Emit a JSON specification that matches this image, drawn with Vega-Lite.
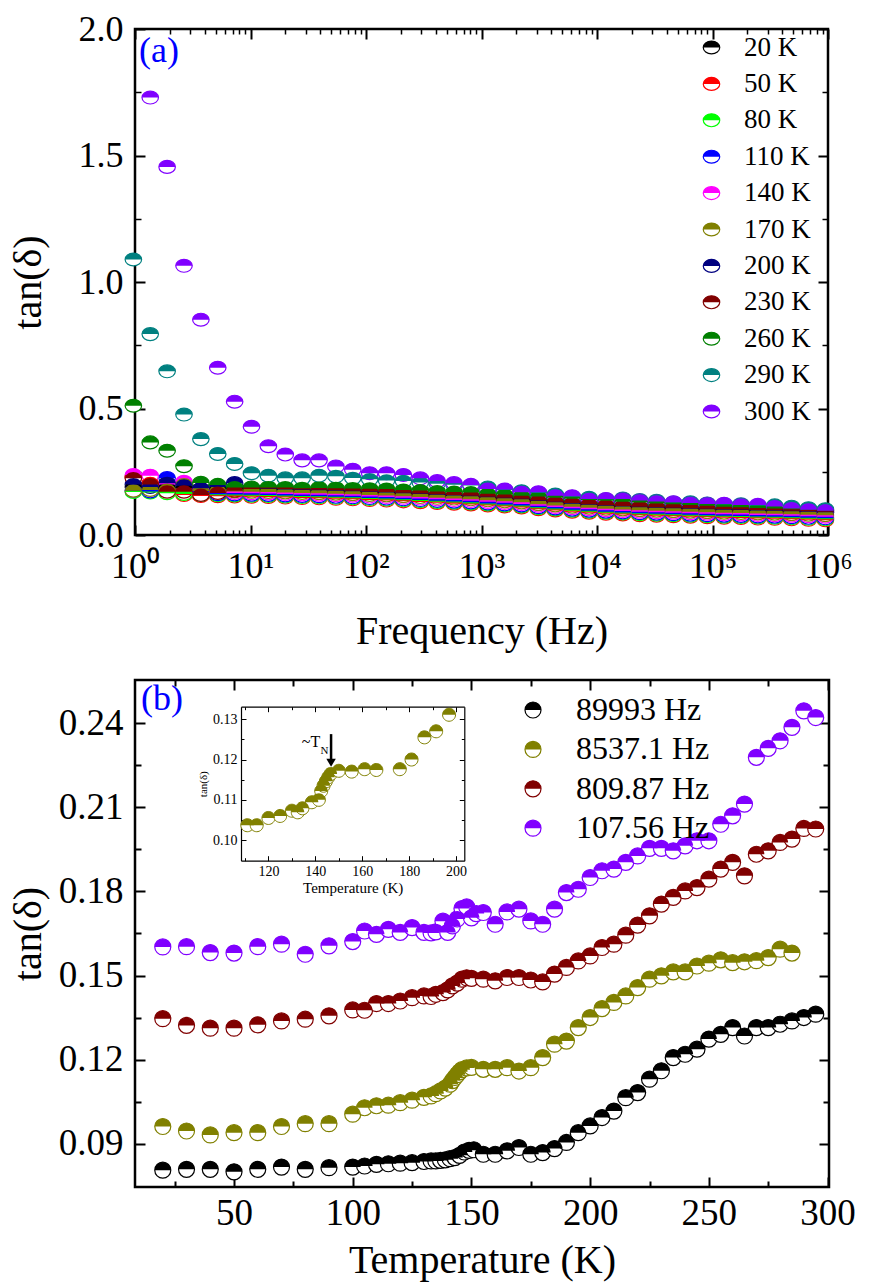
{
"$schema":"https://vega.github.io/schema/vega-lite/v6.json",
"background":"white",
"padding":{"left":6,"top":9,"right":0,"bottom":0},
"config":{"font":"Liberation Serif","view":{"stroke":"black","strokeWidth":2.5},
"axis":{"grid":false,"labelColor":"black","titleColor":"black","tickColor":"black","domainColor":"black","labelFont":"Liberation Serif","titleFont":"Liberation Serif","titleFontWeight":"normal","labelFlush":false,"labelOverlap":false,"labelBound":false},
"legend":{"labelFont":"Liberation Serif","labelColor":"black"},
"text":{"font":"Liberation Serif"}},
"datasets":{
"a":[
{"f":0.968,"s":"20 K","v":0.190},{"f":1.355,"s":"20 K","v":0.182},{"f":1.897,"s":"20 K","v":0.188},{"f":2.656,"s":"20 K","v":0.186},{"f":3.718,"s":"20 K","v":0.184},{"f":5.206,"s":"20 K","v":0.183},{"f":7.288,"s":"20 K","v":0.182},{"f":10.2,"s":"20 K","v":0.181},{"f":14.28,"s":"20 K","v":0.180},{"f":20,"s":"20 K","v":0.178},{"f":28,"s":"20 K","v":0.176},{"f":39.2,"s":"20 K","v":0.175},{"f":54.88,"s":"20 K","v":0.173},{"f":76.83,"s":"20 K","v":0.171},{"f":107.56,"s":"20 K","v":0.168},{"f":150.58,"s":"20 K","v":0.166},{"f":210.82,"s":"20 K","v":0.163},{"f":295.15,"s":"20 K","v":0.160},{"f":413.21,"s":"20 K","v":0.157},{"f":578.49,"s":"20 K","v":0.154},{"f":809.87,"s":"20 K","v":0.151},{"f":1133.8,"s":"20 K","v":0.147},{"f":1587.4,"s":"20 K","v":0.143},{"f":2222.3,"s":"20 K","v":0.139},{"f":3111.2,"s":"20 K","v":0.132},{"f":4355.7,"s":"20 K","v":0.127},{"f":6098,"s":"20 K","v":0.122},{"f":8537.1,"s":"20 K","v":0.118},{"f":11952,"s":"20 K","v":0.114},{"f":16733,"s":"20 K","v":0.111},{"f":23426,"s":"20 K","v":0.108},{"f":32796,"s":"20 K","v":0.106},{"f":45914,"s":"20 K","v":0.104},{"f":64280,"s":"20 K","v":0.102},{"f":89993,"s":"20 K","v":0.100},{"f":125990,"s":"20 K","v":0.098},{"f":176386,"s":"20 K","v":0.097},{"f":246940,"s":"20 K","v":0.095},{"f":345716,"s":"20 K","v":0.094},{"f":484003,"s":"20 K","v":0.092},{"f":677604,"s":"20 K","v":0.090},{"f":948646,"s":"20 K","v":0.088},
{"f":0.968,"s":"50 K","v":0.228},{"f":1.355,"s":"50 K","v":0.205},{"f":1.897,"s":"50 K","v":0.170},{"f":2.656,"s":"50 K","v":0.158},{"f":3.718,"s":"50 K","v":0.154},{"f":5.206,"s":"50 K","v":0.153},{"f":7.288,"s":"50 K","v":0.152},{"f":10.2,"s":"50 K","v":0.151},{"f":14.28,"s":"50 K","v":0.150},{"f":20,"s":"50 K","v":0.148},{"f":28,"s":"50 K","v":0.146},{"f":39.2,"s":"50 K","v":0.145},{"f":54.88,"s":"50 K","v":0.143},{"f":76.83,"s":"50 K","v":0.141},{"f":107.56,"s":"50 K","v":0.138},{"f":150.58,"s":"50 K","v":0.136},{"f":210.82,"s":"50 K","v":0.133},{"f":295.15,"s":"50 K","v":0.130},{"f":413.21,"s":"50 K","v":0.127},{"f":578.49,"s":"50 K","v":0.124},{"f":809.87,"s":"50 K","v":0.121},{"f":1133.8,"s":"50 K","v":0.117},{"f":1587.4,"s":"50 K","v":0.113},{"f":2222.3,"s":"50 K","v":0.109},{"f":3111.2,"s":"50 K","v":0.102},{"f":4355.7,"s":"50 K","v":0.097},{"f":6098,"s":"50 K","v":0.092},{"f":8537.1,"s":"50 K","v":0.088},{"f":11952,"s":"50 K","v":0.084},{"f":16733,"s":"50 K","v":0.081},{"f":23426,"s":"50 K","v":0.078},{"f":32796,"s":"50 K","v":0.076},{"f":45914,"s":"50 K","v":0.074},{"f":64280,"s":"50 K","v":0.072},{"f":89993,"s":"50 K","v":0.070},{"f":125990,"s":"50 K","v":0.068},{"f":176386,"s":"50 K","v":0.067},{"f":246940,"s":"50 K","v":0.065},{"f":345716,"s":"50 K","v":0.064},{"f":484003,"s":"50 K","v":0.062},{"f":677604,"s":"50 K","v":0.060},{"f":948646,"s":"50 K","v":0.058},
{"f":0.968,"s":"80 K","v":0.170},{"f":1.355,"s":"80 K","v":0.168},{"f":1.897,"s":"80 K","v":0.165},{"f":2.656,"s":"80 K","v":0.162},{"f":3.718,"s":"80 K","v":0.158},{"f":5.206,"s":"80 K","v":0.157},{"f":7.288,"s":"80 K","v":0.156},{"f":10.2,"s":"80 K","v":0.155},{"f":14.28,"s":"80 K","v":0.154},{"f":20,"s":"80 K","v":0.152},{"f":28,"s":"80 K","v":0.150},{"f":39.2,"s":"80 K","v":0.149},{"f":54.88,"s":"80 K","v":0.147},{"f":76.83,"s":"80 K","v":0.145},{"f":107.56,"s":"80 K","v":0.142},{"f":150.58,"s":"80 K","v":0.140},{"f":210.82,"s":"80 K","v":0.137},{"f":295.15,"s":"80 K","v":0.134},{"f":413.21,"s":"80 K","v":0.131},{"f":578.49,"s":"80 K","v":0.128},{"f":809.87,"s":"80 K","v":0.125},{"f":1133.8,"s":"80 K","v":0.121},{"f":1587.4,"s":"80 K","v":0.117},{"f":2222.3,"s":"80 K","v":0.113},{"f":3111.2,"s":"80 K","v":0.106},{"f":4355.7,"s":"80 K","v":0.101},{"f":6098,"s":"80 K","v":0.096},{"f":8537.1,"s":"80 K","v":0.092},{"f":11952,"s":"80 K","v":0.088},{"f":16733,"s":"80 K","v":0.085},{"f":23426,"s":"80 K","v":0.082},{"f":32796,"s":"80 K","v":0.080},{"f":45914,"s":"80 K","v":0.078},{"f":64280,"s":"80 K","v":0.076},{"f":89993,"s":"80 K","v":0.074},{"f":125990,"s":"80 K","v":0.072},{"f":176386,"s":"80 K","v":0.071},{"f":246940,"s":"80 K","v":0.069},{"f":345716,"s":"80 K","v":0.068},{"f":484003,"s":"80 K","v":0.066},{"f":677604,"s":"80 K","v":0.064},{"f":948646,"s":"80 K","v":0.062},
{"f":0.968,"s":"110 K","v":0.175},{"f":1.355,"s":"110 K","v":0.172},{"f":1.897,"s":"110 K","v":0.225},{"f":2.656,"s":"110 K","v":0.205},{"f":3.718,"s":"110 K","v":0.170},{"f":5.206,"s":"110 K","v":0.161},{"f":7.288,"s":"110 K","v":0.160},{"f":10.2,"s":"110 K","v":0.159},{"f":14.28,"s":"110 K","v":0.158},{"f":20,"s":"110 K","v":0.156},{"f":28,"s":"110 K","v":0.154},{"f":39.2,"s":"110 K","v":0.153},{"f":54.88,"s":"110 K","v":0.151},{"f":76.83,"s":"110 K","v":0.149},{"f":107.56,"s":"110 K","v":0.146},{"f":150.58,"s":"110 K","v":0.144},{"f":210.82,"s":"110 K","v":0.141},{"f":295.15,"s":"110 K","v":0.138},{"f":413.21,"s":"110 K","v":0.135},{"f":578.49,"s":"110 K","v":0.132},{"f":809.87,"s":"110 K","v":0.129},{"f":1133.8,"s":"110 K","v":0.125},{"f":1587.4,"s":"110 K","v":0.121},{"f":2222.3,"s":"110 K","v":0.117},{"f":3111.2,"s":"110 K","v":0.110},{"f":4355.7,"s":"110 K","v":0.105},{"f":6098,"s":"110 K","v":0.100},{"f":8537.1,"s":"110 K","v":0.096},{"f":11952,"s":"110 K","v":0.092},{"f":16733,"s":"110 K","v":0.089},{"f":23426,"s":"110 K","v":0.086},{"f":32796,"s":"110 K","v":0.084},{"f":45914,"s":"110 K","v":0.082},{"f":64280,"s":"110 K","v":0.080},{"f":89993,"s":"110 K","v":0.078},{"f":125990,"s":"110 K","v":0.076},{"f":176386,"s":"110 K","v":0.075},{"f":246940,"s":"110 K","v":0.073},{"f":345716,"s":"110 K","v":0.072},{"f":484003,"s":"110 K","v":0.070},{"f":677604,"s":"110 K","v":0.068},{"f":948646,"s":"110 K","v":0.066},
{"f":0.968,"s":"140 K","v":0.237},{"f":1.355,"s":"140 K","v":0.234},{"f":1.897,"s":"140 K","v":0.200},{"f":2.656,"s":"140 K","v":0.210},{"f":3.718,"s":"140 K","v":0.180},{"f":5.206,"s":"140 K","v":0.167},{"f":7.288,"s":"140 K","v":0.166},{"f":10.2,"s":"140 K","v":0.165},{"f":14.28,"s":"140 K","v":0.164},{"f":20,"s":"140 K","v":0.162},{"f":28,"s":"140 K","v":0.160},{"f":39.2,"s":"140 K","v":0.159},{"f":54.88,"s":"140 K","v":0.157},{"f":76.83,"s":"140 K","v":0.155},{"f":107.56,"s":"140 K","v":0.152},{"f":150.58,"s":"140 K","v":0.150},{"f":210.82,"s":"140 K","v":0.147},{"f":295.15,"s":"140 K","v":0.144},{"f":413.21,"s":"140 K","v":0.141},{"f":578.49,"s":"140 K","v":0.138},{"f":809.87,"s":"140 K","v":0.135},{"f":1133.8,"s":"140 K","v":0.131},{"f":1587.4,"s":"140 K","v":0.127},{"f":2222.3,"s":"140 K","v":0.123},{"f":3111.2,"s":"140 K","v":0.116},{"f":4355.7,"s":"140 K","v":0.111},{"f":6098,"s":"140 K","v":0.106},{"f":8537.1,"s":"140 K","v":0.102},{"f":11952,"s":"140 K","v":0.098},{"f":16733,"s":"140 K","v":0.095},{"f":23426,"s":"140 K","v":0.092},{"f":32796,"s":"140 K","v":0.090},{"f":45914,"s":"140 K","v":0.088},{"f":64280,"s":"140 K","v":0.086},{"f":89993,"s":"140 K","v":0.084},{"f":125990,"s":"140 K","v":0.082},{"f":176386,"s":"140 K","v":0.081},{"f":246940,"s":"140 K","v":0.079},{"f":345716,"s":"140 K","v":0.078},{"f":484003,"s":"140 K","v":0.076},{"f":677604,"s":"140 K","v":0.074},{"f":948646,"s":"140 K","v":0.072},
{"f":0.968,"s":"170 K","v":0.175},{"f":1.355,"s":"170 K","v":0.178},{"f":1.897,"s":"170 K","v":0.178},{"f":2.656,"s":"170 K","v":0.200},{"f":3.718,"s":"170 K","v":0.174},{"f":5.206,"s":"170 K","v":0.173},{"f":7.288,"s":"170 K","v":0.172},{"f":10.2,"s":"170 K","v":0.171},{"f":14.28,"s":"170 K","v":0.170},{"f":20,"s":"170 K","v":0.168},{"f":28,"s":"170 K","v":0.166},{"f":39.2,"s":"170 K","v":0.165},{"f":54.88,"s":"170 K","v":0.163},{"f":76.83,"s":"170 K","v":0.161},{"f":107.56,"s":"170 K","v":0.158},{"f":150.58,"s":"170 K","v":0.156},{"f":210.82,"s":"170 K","v":0.153},{"f":295.15,"s":"170 K","v":0.150},{"f":413.21,"s":"170 K","v":0.147},{"f":578.49,"s":"170 K","v":0.144},{"f":809.87,"s":"170 K","v":0.141},{"f":1133.8,"s":"170 K","v":0.137},{"f":1587.4,"s":"170 K","v":0.133},{"f":2222.3,"s":"170 K","v":0.129},{"f":3111.2,"s":"170 K","v":0.122},{"f":4355.7,"s":"170 K","v":0.117},{"f":6098,"s":"170 K","v":0.112},{"f":8537.1,"s":"170 K","v":0.108},{"f":11952,"s":"170 K","v":0.104},{"f":16733,"s":"170 K","v":0.101},{"f":23426,"s":"170 K","v":0.098},{"f":32796,"s":"170 K","v":0.096},{"f":45914,"s":"170 K","v":0.094},{"f":64280,"s":"170 K","v":0.092},{"f":89993,"s":"170 K","v":0.090},{"f":125990,"s":"170 K","v":0.088},{"f":176386,"s":"170 K","v":0.087},{"f":246940,"s":"170 K","v":0.085},{"f":345716,"s":"170 K","v":0.084},{"f":484003,"s":"170 K","v":0.082},{"f":677604,"s":"170 K","v":0.080},{"f":948646,"s":"170 K","v":0.078},
{"f":0.968,"s":"200 K","v":0.200},{"f":1.355,"s":"200 K","v":0.190},{"f":1.897,"s":"200 K","v":0.205},{"f":2.656,"s":"200 K","v":0.195},{"f":3.718,"s":"200 K","v":0.185},{"f":5.206,"s":"200 K","v":0.190},{"f":7.288,"s":"200 K","v":0.205},{"f":10.2,"s":"200 K","v":0.185},{"f":14.28,"s":"200 K","v":0.182},{"f":20,"s":"200 K","v":0.180},{"f":28,"s":"200 K","v":0.178},{"f":39.2,"s":"200 K","v":0.177},{"f":54.88,"s":"200 K","v":0.175},{"f":76.83,"s":"200 K","v":0.173},{"f":107.56,"s":"200 K","v":0.170},{"f":150.58,"s":"200 K","v":0.168},{"f":210.82,"s":"200 K","v":0.165},{"f":295.15,"s":"200 K","v":0.162},{"f":413.21,"s":"200 K","v":0.159},{"f":578.49,"s":"200 K","v":0.156},{"f":809.87,"s":"200 K","v":0.153},{"f":1133.8,"s":"200 K","v":0.149},{"f":1587.4,"s":"200 K","v":0.145},{"f":2222.3,"s":"200 K","v":0.141},{"f":3111.2,"s":"200 K","v":0.134},{"f":4355.7,"s":"200 K","v":0.129},{"f":6098,"s":"200 K","v":0.124},{"f":8537.1,"s":"200 K","v":0.120},{"f":11952,"s":"200 K","v":0.116},{"f":16733,"s":"200 K","v":0.113},{"f":23426,"s":"200 K","v":0.110},{"f":32796,"s":"200 K","v":0.108},{"f":45914,"s":"200 K","v":0.106},{"f":64280,"s":"200 K","v":0.104},{"f":89993,"s":"200 K","v":0.102},{"f":125990,"s":"200 K","v":0.100},{"f":176386,"s":"200 K","v":0.099},{"f":246940,"s":"200 K","v":0.097},{"f":345716,"s":"200 K","v":0.096},{"f":484003,"s":"200 K","v":0.094},{"f":677604,"s":"200 K","v":0.092},{"f":948646,"s":"200 K","v":0.090},
{"f":0.968,"s":"230 K","v":0.224},{"f":1.355,"s":"230 K","v":0.200},{"f":1.897,"s":"230 K","v":0.171},{"f":2.656,"s":"230 K","v":0.171},{"f":3.718,"s":"230 K","v":0.158},{"f":5.206,"s":"230 K","v":0.166},{"f":7.288,"s":"230 K","v":0.175},{"f":10.2,"s":"230 K","v":0.182},{"f":14.28,"s":"230 K","v":0.184},{"f":20,"s":"230 K","v":0.182},{"f":28,"s":"230 K","v":0.180},{"f":39.2,"s":"230 K","v":0.179},{"f":54.88,"s":"230 K","v":0.177},{"f":76.83,"s":"230 K","v":0.175},{"f":107.56,"s":"230 K","v":0.172},{"f":150.58,"s":"230 K","v":0.170},{"f":210.82,"s":"230 K","v":0.167},{"f":295.15,"s":"230 K","v":0.164},{"f":413.21,"s":"230 K","v":0.161},{"f":578.49,"s":"230 K","v":0.158},{"f":809.87,"s":"230 K","v":0.155},{"f":1133.8,"s":"230 K","v":0.151},{"f":1587.4,"s":"230 K","v":0.147},{"f":2222.3,"s":"230 K","v":0.143},{"f":3111.2,"s":"230 K","v":0.136},{"f":4355.7,"s":"230 K","v":0.131},{"f":6098,"s":"230 K","v":0.126},{"f":8537.1,"s":"230 K","v":0.122},{"f":11952,"s":"230 K","v":0.118},{"f":16733,"s":"230 K","v":0.115},{"f":23426,"s":"230 K","v":0.112},{"f":32796,"s":"230 K","v":0.110},{"f":45914,"s":"230 K","v":0.108},{"f":64280,"s":"230 K","v":0.106},{"f":89993,"s":"230 K","v":0.104},{"f":125990,"s":"230 K","v":0.102},{"f":176386,"s":"230 K","v":0.101},{"f":246940,"s":"230 K","v":0.099},{"f":345716,"s":"230 K","v":0.098},{"f":484003,"s":"230 K","v":0.096},{"f":677604,"s":"230 K","v":0.094},{"f":948646,"s":"230 K","v":0.092},
{"f":0.968,"s":"260 K","v":0.511},{"f":1.355,"s":"260 K","v":0.366},{"f":1.897,"s":"260 K","v":0.333},{"f":2.656,"s":"260 K","v":0.272},{"f":3.718,"s":"260 K","v":0.206},{"f":5.206,"s":"260 K","v":0.198},{"f":7.288,"s":"260 K","v":0.188},{"f":10.2,"s":"260 K","v":0.188},{"f":14.28,"s":"260 K","v":0.188},{"f":20,"s":"260 K","v":0.188},{"f":28,"s":"260 K","v":0.185},{"f":39.2,"s":"260 K","v":0.186},{"f":54.88,"s":"260 K","v":0.185},{"f":76.83,"s":"260 K","v":0.184},{"f":107.56,"s":"260 K","v":0.183},{"f":150.58,"s":"260 K","v":0.182},{"f":210.82,"s":"260 K","v":0.178},{"f":295.15,"s":"260 K","v":0.176},{"f":413.21,"s":"260 K","v":0.172},{"f":578.49,"s":"260 K","v":0.170},{"f":809.87,"s":"260 K","v":0.168},{"f":1133.8,"s":"260 K","v":0.163},{"f":1587.4,"s":"260 K","v":0.160},{"f":2222.3,"s":"260 K","v":0.155},{"f":3111.2,"s":"260 K","v":0.152},{"f":4355.7,"s":"260 K","v":0.147},{"f":6098,"s":"260 K","v":0.143},{"f":8537.1,"s":"260 K","v":0.138},{"f":11952,"s":"260 K","v":0.135},{"f":16733,"s":"260 K","v":0.131},{"f":23426,"s":"260 K","v":0.128},{"f":32796,"s":"260 K","v":0.125},{"f":45914,"s":"260 K","v":0.122},{"f":64280,"s":"260 K","v":0.119},{"f":89993,"s":"260 K","v":0.116},{"f":125990,"s":"260 K","v":0.112},{"f":176386,"s":"260 K","v":0.110},{"f":246940,"s":"260 K","v":0.107},{"f":345716,"s":"260 K","v":0.105},{"f":484003,"s":"260 K","v":0.102},{"f":677604,"s":"260 K","v":0.099},{"f":948646,"s":"260 K","v":0.096},
{"f":0.968,"s":"290 K","v":1.089},{"f":1.355,"s":"290 K","v":0.794},{"f":1.897,"s":"290 K","v":0.647},{"f":2.656,"s":"290 K","v":0.476},{"f":3.718,"s":"290 K","v":0.379},{"f":5.206,"s":"290 K","v":0.320},{"f":7.288,"s":"290 K","v":0.281},{"f":10.2,"s":"290 K","v":0.244},{"f":14.28,"s":"290 K","v":0.234},{"f":20,"s":"290 K","v":0.224},{"f":28,"s":"290 K","v":0.224},{"f":39.2,"s":"290 K","v":0.234},{"f":54.88,"s":"290 K","v":0.232},{"f":76.83,"s":"290 K","v":0.225},{"f":107.56,"s":"290 K","v":0.220},{"f":150.58,"s":"290 K","v":0.215},{"f":210.82,"s":"290 K","v":0.213},{"f":295.15,"s":"290 K","v":0.208},{"f":413.21,"s":"290 K","v":0.203},{"f":578.49,"s":"290 K","v":0.199},{"f":809.87,"s":"290 K","v":0.196},{"f":1133.8,"s":"290 K","v":0.188},{"f":1587.4,"s":"290 K","v":0.178},{"f":2222.3,"s":"290 K","v":0.173},{"f":3111.2,"s":"290 K","v":0.166},{"f":4355.7,"s":"290 K","v":0.160},{"f":6098,"s":"290 K","v":0.151},{"f":8537.1,"s":"290 K","v":0.147},{"f":11952,"s":"290 K","v":0.141},{"f":16733,"s":"290 K","v":0.144},{"f":23426,"s":"290 K","v":0.138},{"f":32796,"s":"290 K","v":0.135},{"f":45914,"s":"290 K","v":0.128},{"f":64280,"s":"290 K","v":0.129},{"f":89993,"s":"290 K","v":0.124},{"f":125990,"s":"290 K","v":0.121},{"f":176386,"s":"290 K","v":0.121},{"f":246940,"s":"290 K","v":0.116},{"f":345716,"s":"290 K","v":0.117},{"f":484003,"s":"290 K","v":0.112},{"f":677604,"s":"290 K","v":0.106},{"f":948646,"s":"290 K","v":0.102},
{"f":1.355,"s":"300 K","v":1.729},{"f":1.897,"s":"300 K","v":1.455},{"f":2.656,"s":"300 K","v":1.064},{"f":3.718,"s":"300 K","v":0.851},{"f":5.206,"s":"300 K","v":0.661},{"f":7.288,"s":"300 K","v":0.527},{"f":10.2,"s":"300 K","v":0.428},{"f":14.28,"s":"300 K","v":0.351},{"f":20,"s":"300 K","v":0.318},{"f":28,"s":"300 K","v":0.295},{"f":39.2,"s":"300 K","v":0.295},{"f":54.88,"s":"300 K","v":0.271},{"f":76.83,"s":"300 K","v":0.258},{"f":107.56,"s":"300 K","v":0.244},{"f":150.58,"s":"300 K","v":0.244},{"f":210.82,"s":"300 K","v":0.237},{"f":295.15,"s":"300 K","v":0.224},{"f":413.21,"s":"300 K","v":0.213},{"f":578.49,"s":"300 K","v":0.205},{"f":809.87,"s":"300 K","v":0.198},{"f":1133.8,"s":"300 K","v":0.182},{"f":1587.4,"s":"300 K","v":0.180},{"f":2222.3,"s":"300 K","v":0.169},{"f":3111.2,"s":"300 K","v":0.169},{"f":4355.7,"s":"300 K","v":0.155},{"f":6098,"s":"300 K","v":0.153},{"f":8537.1,"s":"300 K","v":0.142},{"f":11952,"s":"300 K","v":0.142},{"f":16733,"s":"300 K","v":0.142},{"f":23426,"s":"300 K","v":0.136},{"f":32796,"s":"300 K","v":0.132},{"f":45914,"s":"300 K","v":0.129},{"f":64280,"s":"300 K","v":0.126},{"f":89993,"s":"300 K","v":0.123},{"f":125990,"s":"300 K","v":0.123},{"f":176386,"s":"300 K","v":0.119},{"f":246940,"s":"300 K","v":0.119},{"f":345716,"s":"300 K","v":0.113},{"f":484003,"s":"300 K","v":0.105},{"f":677604,"s":"300 K","v":0.100},{"f":948646,"s":"300 K","v":0.096}
],
"b":[
{"t":20,"s":"89993 Hz","v":0.0805},{"t":30,"s":"89993 Hz","v":0.0808},{"t":40,"s":"89993 Hz","v":0.0808},{"t":50,"s":"89993 Hz","v":0.0799},{"t":60,"s":"89993 Hz","v":0.0808},{"t":70,"s":"89993 Hz","v":0.0816},{"t":80,"s":"89993 Hz","v":0.0808},{"t":90,"s":"89993 Hz","v":0.0814},{"t":100,"s":"89993 Hz","v":0.0816},{"t":105,"s":"89993 Hz","v":0.0820},{"t":110,"s":"89993 Hz","v":0.0826},{"t":115,"s":"89993 Hz","v":0.0828},{"t":120,"s":"89993 Hz","v":0.0830},{"t":125,"s":"89993 Hz","v":0.0832},{"t":130,"s":"89993 Hz","v":0.0836},{"t":133,"s":"89993 Hz","v":0.0838},{"t":135,"s":"89993 Hz","v":0.0838},{"t":137,"s":"89993 Hz","v":0.0840},{"t":139,"s":"89993 Hz","v":0.0842},{"t":141,"s":"89993 Hz","v":0.0846},{"t":143,"s":"89993 Hz","v":0.0850},{"t":145,"s":"89993 Hz","v":0.0858},{"t":147,"s":"89993 Hz","v":0.0870},{"t":149,"s":"89993 Hz","v":0.0876},{"t":151,"s":"89993 Hz","v":0.0878},{"t":155,"s":"89993 Hz","v":0.0862},{"t":160,"s":"89993 Hz","v":0.0862},{"t":165,"s":"89993 Hz","v":0.0874},{"t":170,"s":"89993 Hz","v":0.0886},{"t":175,"s":"89993 Hz","v":0.0862},{"t":180,"s":"89993 Hz","v":0.0868},{"t":185,"s":"89993 Hz","v":0.0882},{"t":190,"s":"89993 Hz","v":0.0904},{"t":195,"s":"89993 Hz","v":0.0939},{"t":200,"s":"89993 Hz","v":0.0963},{"t":205,"s":"89993 Hz","v":0.0993},{"t":210,"s":"89993 Hz","v":0.1016},{"t":215,"s":"89993 Hz","v":0.1064},{"t":220,"s":"89993 Hz","v":0.1082},{"t":225,"s":"89993 Hz","v":0.1130},{"t":230,"s":"89993 Hz","v":0.1160},{"t":235,"s":"89993 Hz","v":0.1207},{"t":240,"s":"89993 Hz","v":0.1219},{"t":245,"s":"89993 Hz","v":0.1237},{"t":250,"s":"89993 Hz","v":0.1273},{"t":255,"s":"89993 Hz","v":0.1290},{"t":260,"s":"89993 Hz","v":0.1314},{"t":265,"s":"89993 Hz","v":0.1284},{"t":270,"s":"89993 Hz","v":0.1314},{"t":275,"s":"89993 Hz","v":0.1314},{"t":280,"s":"89993 Hz","v":0.1326},{"t":285,"s":"89993 Hz","v":0.1338},{"t":290,"s":"89993 Hz","v":0.1350},{"t":295,"s":"89993 Hz","v":0.1362},
{"t":20,"s":"8537.1 Hz","v":0.0961},{"t":30,"s":"8537.1 Hz","v":0.0945},{"t":40,"s":"8537.1 Hz","v":0.0931},{"t":50,"s":"8537.1 Hz","v":0.0939},{"t":60,"s":"8537.1 Hz","v":0.0939},{"t":70,"s":"8537.1 Hz","v":0.0961},{"t":80,"s":"8537.1 Hz","v":0.0971},{"t":90,"s":"8537.1 Hz","v":0.0971},{"t":100,"s":"8537.1 Hz","v":0.1005},{"t":105,"s":"8537.1 Hz","v":0.1028},{"t":110,"s":"8537.1 Hz","v":0.1035},{"t":115,"s":"8537.1 Hz","v":0.1037},{"t":120,"s":"8537.1 Hz","v":0.1046},{"t":125,"s":"8537.1 Hz","v":0.1055},{"t":130,"s":"8537.1 Hz","v":0.1065},{"t":133,"s":"8537.1 Hz","v":0.1070},{"t":135,"s":"8537.1 Hz","v":0.1078},{"t":137,"s":"8537.1 Hz","v":0.1088},{"t":139,"s":"8537.1 Hz","v":0.1098},{"t":141,"s":"8537.1 Hz","v":0.1112},{"t":142,"s":"8537.1 Hz","v":0.1125},{"t":143,"s":"8537.1 Hz","v":0.1136},{"t":144,"s":"8537.1 Hz","v":0.1146},{"t":145,"s":"8537.1 Hz","v":0.1156},{"t":146,"s":"8537.1 Hz","v":0.1164},{"t":148,"s":"8537.1 Hz","v":0.1170},{"t":150,"s":"8537.1 Hz","v":0.1172},{"t":155,"s":"8537.1 Hz","v":0.1165},{"t":160,"s":"8537.1 Hz","v":0.1165},{"t":165,"s":"8537.1 Hz","v":0.1171},{"t":170,"s":"8537.1 Hz","v":0.1159},{"t":175,"s":"8537.1 Hz","v":0.1171},{"t":180,"s":"8537.1 Hz","v":0.1207},{"t":185,"s":"8537.1 Hz","v":0.1255},{"t":190,"s":"8537.1 Hz","v":0.1266},{"t":195,"s":"8537.1 Hz","v":0.1314},{"t":200,"s":"8537.1 Hz","v":0.1350},{"t":205,"s":"8537.1 Hz","v":0.1382},{"t":210,"s":"8537.1 Hz","v":0.1404},{"t":215,"s":"8537.1 Hz","v":0.1427},{"t":220,"s":"8537.1 Hz","v":0.1457},{"t":225,"s":"8537.1 Hz","v":0.1487},{"t":230,"s":"8537.1 Hz","v":0.1499},{"t":235,"s":"8537.1 Hz","v":0.1513},{"t":240,"s":"8537.1 Hz","v":0.1513},{"t":245,"s":"8537.1 Hz","v":0.1534},{"t":250,"s":"8537.1 Hz","v":0.1544},{"t":255,"s":"8537.1 Hz","v":0.1556},{"t":260,"s":"8537.1 Hz","v":0.1546},{"t":265,"s":"8537.1 Hz","v":0.1549},{"t":270,"s":"8537.1 Hz","v":0.1553},{"t":275,"s":"8537.1 Hz","v":0.1564},{"t":280,"s":"8537.1 Hz","v":0.1594},{"t":285,"s":"8537.1 Hz","v":0.1580},
{"t":20,"s":"809.87 Hz","v":0.1346},{"t":30,"s":"809.87 Hz","v":0.1322},{"t":40,"s":"809.87 Hz","v":0.1312},{"t":50,"s":"809.87 Hz","v":0.1312},{"t":60,"s":"809.87 Hz","v":0.1324},{"t":70,"s":"809.87 Hz","v":0.1338},{"t":80,"s":"809.87 Hz","v":0.1344},{"t":90,"s":"809.87 Hz","v":0.1356},{"t":100,"s":"809.87 Hz","v":0.1377},{"t":105,"s":"809.87 Hz","v":0.1376},{"t":110,"s":"809.87 Hz","v":0.1400},{"t":115,"s":"809.87 Hz","v":0.1400},{"t":120,"s":"809.87 Hz","v":0.1409},{"t":125,"s":"809.87 Hz","v":0.1421},{"t":130,"s":"809.87 Hz","v":0.1427},{"t":133,"s":"809.87 Hz","v":0.1425},{"t":135,"s":"809.87 Hz","v":0.1433},{"t":138,"s":"809.87 Hz","v":0.1439},{"t":140,"s":"809.87 Hz","v":0.1449},{"t":142,"s":"809.87 Hz","v":0.1463},{"t":144,"s":"809.87 Hz","v":0.1473},{"t":146,"s":"809.87 Hz","v":0.1487},{"t":148,"s":"809.87 Hz","v":0.1492},{"t":150,"s":"809.87 Hz","v":0.1490},{"t":155,"s":"809.87 Hz","v":0.1487},{"t":160,"s":"809.87 Hz","v":0.1481},{"t":165,"s":"809.87 Hz","v":0.1493},{"t":170,"s":"809.87 Hz","v":0.1493},{"t":175,"s":"809.87 Hz","v":0.1484},{"t":180,"s":"809.87 Hz","v":0.1477},{"t":185,"s":"809.87 Hz","v":0.1505},{"t":190,"s":"809.87 Hz","v":0.1529},{"t":195,"s":"809.87 Hz","v":0.1552},{"t":200,"s":"809.87 Hz","v":0.1570},{"t":205,"s":"809.87 Hz","v":0.1600},{"t":210,"s":"809.87 Hz","v":0.1612},{"t":215,"s":"809.87 Hz","v":0.1644},{"t":220,"s":"809.87 Hz","v":0.1680},{"t":225,"s":"809.87 Hz","v":0.1713},{"t":230,"s":"809.87 Hz","v":0.1755},{"t":235,"s":"809.87 Hz","v":0.1779},{"t":240,"s":"809.87 Hz","v":0.1802},{"t":245,"s":"809.87 Hz","v":0.1814},{"t":250,"s":"809.87 Hz","v":0.1844},{"t":255,"s":"809.87 Hz","v":0.1880},{"t":260,"s":"809.87 Hz","v":0.1904},{"t":265,"s":"809.87 Hz","v":0.1856},{"t":270,"s":"809.87 Hz","v":0.1933},{"t":275,"s":"809.87 Hz","v":0.1945},{"t":280,"s":"809.87 Hz","v":0.1975},{"t":285,"s":"809.87 Hz","v":0.1987},{"t":290,"s":"809.87 Hz","v":0.2025},{"t":295,"s":"809.87 Hz","v":0.2023},
{"t":20,"s":"107.56 Hz","v":0.1602},{"t":30,"s":"107.56 Hz","v":0.1603},{"t":40,"s":"107.56 Hz","v":0.1582},{"t":50,"s":"107.56 Hz","v":0.1580},{"t":60,"s":"107.56 Hz","v":0.1603},{"t":70,"s":"107.56 Hz","v":0.1612},{"t":80,"s":"107.56 Hz","v":0.1576},{"t":90,"s":"107.56 Hz","v":0.1606},{"t":100,"s":"107.56 Hz","v":0.1621},{"t":105,"s":"107.56 Hz","v":0.1659},{"t":110,"s":"107.56 Hz","v":0.1647},{"t":115,"s":"107.56 Hz","v":0.1665},{"t":120,"s":"107.56 Hz","v":0.1654},{"t":125,"s":"107.56 Hz","v":0.1671},{"t":130,"s":"107.56 Hz","v":0.1654},{"t":133,"s":"107.56 Hz","v":0.1652},{"t":135,"s":"107.56 Hz","v":0.1656},{"t":138,"s":"107.56 Hz","v":0.1694},{"t":140,"s":"107.56 Hz","v":0.1654},{"t":142,"s":"107.56 Hz","v":0.1677},{"t":144,"s":"107.56 Hz","v":0.1702},{"t":146,"s":"107.56 Hz","v":0.1739},{"t":148,"s":"107.56 Hz","v":0.1745},{"t":150,"s":"107.56 Hz","v":0.1706},{"t":152,"s":"107.56 Hz","v":0.1721},{"t":155,"s":"107.56 Hz","v":0.1725},{"t":160,"s":"107.56 Hz","v":0.1683},{"t":165,"s":"107.56 Hz","v":0.1727},{"t":170,"s":"107.56 Hz","v":0.1737},{"t":175,"s":"107.56 Hz","v":0.1695},{"t":180,"s":"107.56 Hz","v":0.1683},{"t":185,"s":"107.56 Hz","v":0.1737},{"t":190,"s":"107.56 Hz","v":0.1796},{"t":195,"s":"107.56 Hz","v":0.1808},{"t":200,"s":"107.56 Hz","v":0.1850},{"t":205,"s":"107.56 Hz","v":0.1874},{"t":210,"s":"107.56 Hz","v":0.1880},{"t":215,"s":"107.56 Hz","v":0.1904},{"t":220,"s":"107.56 Hz","v":0.1927},{"t":225,"s":"107.56 Hz","v":0.1954},{"t":230,"s":"107.56 Hz","v":0.1954},{"t":235,"s":"107.56 Hz","v":0.1945},{"t":240,"s":"107.56 Hz","v":0.1963},{"t":245,"s":"107.56 Hz","v":0.1981},{"t":250,"s":"107.56 Hz","v":0.1981},{"t":255,"s":"107.56 Hz","v":0.2040},{"t":260,"s":"107.56 Hz","v":0.2070},{"t":265,"s":"107.56 Hz","v":0.2112},{"t":270,"s":"107.56 Hz","v":0.2279},{"t":275,"s":"107.56 Hz","v":0.2311},{"t":280,"s":"107.56 Hz","v":0.2338},{"t":285,"s":"107.56 Hz","v":0.2386},{"t":290,"s":"107.56 Hz","v":0.2445},{"t":295,"s":"107.56 Hz","v":0.2421}
],
"ins":[
{"t":111,"v":0.1037},{"t":115,"v":0.1037},{"t":120,"v":0.1055},{"t":125,"v":0.1060},{"t":130,"v":0.1073},{"t":132.5,"v":0.1069},{"t":134.5,"v":0.1079},{"t":138.5,"v":0.1094},{"t":141.5,"v":0.1100},{"t":142.5,"v":0.1122},{"t":143.5,"v":0.1135},{"t":144.5,"v":0.1146},{"t":145.5,"v":0.1156},{"t":146.5,"v":0.1164},{"t":150,"v":0.1172},{"t":155.5,"v":0.1170},{"t":161,"v":0.1176},{"t":166,"v":0.1174},{"t":176,"v":0.1176},{"t":181,"v":0.1200},{"t":186.5,"v":0.1255},{"t":191.5,"v":0.1270},{"t":197,"v":0.1311}
]},
"spacing":145,
"bounds":"flush",
"resolve":{"scale":{"x":"independent","y":"independent","stroke":"independent","fill":"independent"},"legend":{"stroke":"independent","fill":"independent"}},
"vconcat":[
{"width":693,"height":506,
"data":{"name":"a"},
"resolve":{"axis":{"x":"independent","y":"independent"}},
"layer":[
{"mark":{"type":"point","shape":"M-1,0A1,0.78,0,1,1,1,0A1,0.78,0,1,1,-1,0Z","size":272,"filled":true,"fill":"white","strokeWidth":1.2,"opacity":1},
"encoding":{
"x":{"field":"f","type":"quantitative","scale":{"type":"log","domain":[1,1000000],"nice":false},"axis":{"orient":"bottom","values":[1,10,100,1000,10000,100000,1000000],"labelExpr":"'10' + ['⁰','¹','²','³','⁴','⁵','⁶'][round(log(datum.value)/LN10)]","ticks":false,"domain":false,"labelFont":"Liberation Serif","labelFontSize":36,"labelPadding":14,"title":"Frequency (Hz)","titleFont":"Liberation Serif","titleFontSize":40,"titleY":108,"titleBaseline":"alphabetic"}},
"y":{"field":"v","type":"quantitative","scale":{"domain":[0,2],"nice":false,"zero":false},"axis":{"orient":"left","values":[0,0.5,1,1.5,2],"format":".1f","ticks":false,"domain":false,"labelFont":"Liberation Serif","labelFontSize":36,"labelPadding":12,"title":"tan(δ)","titleFont":"Liberation Serif","titleFontSize":40,"titleX":-95,"titleBaseline":"alphabetic"}},
"stroke":{"field":"s","type":"nominal","scale":{"domain":["20 K","50 K","80 K","110 K","140 K","170 K","200 K","230 K","260 K","290 K","300 K"],"range":["#000000","#FF0000","#00FF00","#0000FF","#FF00FF","#808000","#000080","#800000","#008000","#008080","#8000FF"]},
"legend":{"orient":"none","legendX":563,"legendY":5,"title":null,"symbolType":"M-1,0A1,0.78,0,1,1,1,0A1,0.78,0,1,1,-1,0Z","symbolSize":272,"symbolFillColor":"white","symbolStrokeWidth":1.2,"labelFont":"Liberation Serif","labelFontSize":27,"rowPadding":8.4,"labelOffset":19,"padding":0,"labelLimit":0}}}},
{"mark":{"type":"point","shape":"M-1,0A1,0.78,0,0,1,1,0Z","size":272,"filled":true,"strokeWidth":0,"opacity":1},
"encoding":{
"x":{"field":"f","type":"quantitative","scale":{"type":"log","domain":[1,1000000],"nice":false},"axis":{"orient":"top","values":[1,10,100,1000,10000,100000,1000000],"labels":false,"domain":false,"tickSize":10,"tickWidth":2,"offset":-10,"title":null}},
"y":{"field":"v","type":"quantitative","scale":{"domain":[0,2],"nice":false,"zero":false},"axis":{"orient":"right","values":[0,0.5,1,1.5,2],"labels":false,"domain":false,"tickSize":10,"tickWidth":2,"offset":-10,"title":null}},
"fill":{"field":"s","type":"nominal","scale":{"domain":["20 K","50 K","80 K","110 K","140 K","170 K","200 K","230 K","260 K","290 K","300 K","zz"],"range":["#000000","#FF0000","#00FF00","#0000FF","#FF00FF","#808000","#000080","#800000","#008000","#008080","#8000FF","#ffffff"]},
"legend":{"orient":"none","legendX":563,"legendY":5,"title":null,"values":["20 K","50 K","80 K","110 K","140 K","170 K","200 K","230 K","260 K","290 K","300 K"],"symbolType":"M-1,0A1,0.78,0,0,1,1,0Z","symbolSize":272,"symbolStrokeWidth":0,"labelFont":"Liberation Serif","labelFontSize":27,"labelOpacity":0,"rowPadding":8.4,"labelOffset":19,"padding":0,"labelLimit":0}}}},
{"mark":{"type":"point","opacity":0},
"encoding":{
"x":{"field":"f","type":"quantitative","scale":{"type":"log","domain":[1,1000000],"nice":false},"axis":{"orient":"bottom","values":[1,10,100,1000,10000,100000,1000000],"labels":false,"domain":false,"tickSize":10,"tickWidth":2,"offset":-10,"title":null}},
"y":{"field":"v","type":"quantitative","scale":{"domain":[0,2],"nice":false,"zero":false},"axis":{"orient":"left","values":[0,0.5,1,1.5,2],"labels":false,"domain":false,"tickSize":10,"tickWidth":2,"offset":-10,"title":null}}}},
{"mark":{"type":"point","opacity":0},
"encoding":{
"x":{"field":"f","type":"quantitative","scale":{"type":"log","domain":[1,1000000],"nice":false},"axis":{"orient":"bottom","values":[2,3,4,5,6,7,8,9,20,30,40,50,60,70,80,90,200,300,400,500,600,700,800,900,2000,3000,4000,5000,6000,7000,8000,9000,20000,30000,40000,50000,60000,70000,80000,90000,200000,300000,400000,500000,600000,700000,800000,900000],"labels":false,"domain":false,"tickSize":5,"tickWidth":1.5,"offset":-5,"title":null}},
"y":{"field":"v","type":"quantitative","scale":{"domain":[0,2],"nice":false,"zero":false},"axis":{"orient":"left","values":[0.25,0.75,1.25,1.75],"labels":false,"domain":false,"tickSize":6,"tickWidth":1.5,"offset":-6,"title":null}}}},
{"mark":{"type":"point","opacity":0},
"encoding":{
"x":{"field":"f","type":"quantitative","scale":{"type":"log","domain":[1,1000000],"nice":false},"axis":{"orient":"top","values":[2,3,4,5,6,7,8,9,20,30,40,50,60,70,80,90,200,300,400,500,600,700,800,900,2000,3000,4000,5000,6000,7000,8000,9000,20000,30000,40000,50000,60000,70000,80000,90000,200000,300000,400000,500000,600000,700000,800000,900000],"labels":false,"domain":false,"tickSize":5,"tickWidth":1.5,"offset":-5,"title":null}},
"y":{"field":"v","type":"quantitative","scale":{"domain":[0,2],"nice":false,"zero":false},"axis":{"orient":"right","values":[0.25,0.75,1.25,1.75],"labels":false,"domain":false,"tickSize":6,"tickWidth":1.5,"offset":-6,"title":null}}}},
{"data":{"values":[{"f":1.083,"v":1.913,"txt":"(a)"}]},
"mark":{"type":"text","font":"Liberation Serif","fontSize":36,"color":"#0000FF","align":"left","baseline":"middle"},
"encoding":{"x":{"field":"f","type":"quantitative","scale":{"type":"log","domain":[1,1000000],"nice":false},"axis":null},"y":{"field":"v","type":"quantitative","scale":{"domain":[0,2],"nice":false,"zero":false},"axis":null},"text":{"field":"txt"}}}
]},
{"width":694,"height":507,
"resolve":{"scale":{"x":"independent","y":"independent"}},
"layer":[
{"data":{"name":"b"},
"mark":{"type":"point","shape":"M-1,0A1,1,0,1,1,1,0A1,1,0,1,1,-1,0Z","size":256,"filled":true,"fill":"white","strokeWidth":1.2,"opacity":1},
"encoding":{
"x":{"field":"t","type":"quantitative","scale":{"domain":[8.3,300.6],"nice":false,"zero":false},"axis":{"orient":"bottom","values":[50,100,150,200,250,300],"ticks":false,"domain":false,"labelFont":"Liberation Serif","labelFontSize":37,"labelPadding":8,"title":"Temperature (K)","titleFont":"Liberation Serif","titleFontSize":40,"titleY":85,"titleBaseline":"alphabetic"}},
"y":{"field":"v","type":"quantitative","scale":{"domain":[0.0745,0.2555],"nice":false,"zero":false},"axis":{"orient":"left","values":[0.09,0.12,0.15,0.18,0.21,0.24],"format":".2f","ticks":false,"domain":false,"labelFont":"Liberation Serif","labelFontSize":37,"labelPadding":12,"title":"tan(δ)","titleFont":"Liberation Serif","titleFontSize":40,"titleX":-95,"titleBaseline":"alphabetic"}},
"stroke":{"field":"s","type":"nominal","scale":{"domain":["89993 Hz","8537.1 Hz","809.87 Hz","107.56 Hz"],"range":["#000000","#808000","#800000","#8000FF"]},
"legend":{"orient":"none","legendX":382,"legendY":14,"title":null,"symbolType":"M-1,0A1,1,0,1,1,1,0A1,1,0,1,1,-1,0Z","symbolSize":256,"symbolFillColor":"white","symbolStrokeWidth":1.2,"labelFont":"Liberation Serif","labelFontSize":32,"rowPadding":7.4,"labelOffset":27,"padding":0,"labelLimit":0}}}},
{"data":{"name":"b"},
"mark":{"type":"point","shape":"M-1,0A1,1,0,0,1,1,0Z","size":256,"filled":true,"strokeWidth":0,"opacity":1},
"encoding":{
"x":{"field":"t","type":"quantitative","scale":{"domain":[8.3,300.6],"nice":false,"zero":false},"axis":{"orient":"top","values":[50,100,150,200,250,300],"labels":false,"domain":false,"tickSize":10,"tickWidth":2,"offset":-10,"title":null}},
"y":{"field":"v","type":"quantitative","scale":{"domain":[0.0745,0.2555],"nice":false,"zero":false},"axis":{"orient":"right","values":[0.09,0.12,0.15,0.18,0.21,0.24],"labels":false,"domain":false,"tickSize":10,"tickWidth":2,"offset":-10,"title":null}},
"fill":{"field":"s","type":"nominal","scale":{"domain":["89993 Hz","8537.1 Hz","809.87 Hz","107.56 Hz","zz"],"range":["#000000","#808000","#800000","#8000FF","#ffffff"]},
"legend":{"orient":"none","legendX":382,"legendY":14,"title":null,"values":["89993 Hz","8537.1 Hz","809.87 Hz","107.56 Hz"],"symbolType":"M-1,0A1,1,0,0,1,1,0Z","symbolSize":256,"symbolStrokeWidth":0,"labelFont":"Liberation Serif","labelFontSize":32,"labelOpacity":0,"rowPadding":7.4,"labelOffset":27,"padding":0,"labelLimit":0}}}},
{"data":{"name":"b"},"mark":{"type":"point","opacity":0},
"encoding":{
"x":{"field":"t","type":"quantitative","scale":{"domain":[8.3,300.6],"nice":false,"zero":false},"axis":{"orient":"bottom","values":[50,100,150,200,250,300],"labels":false,"domain":false,"tickSize":10,"tickWidth":2,"offset":-10,"title":null}},
"y":{"field":"v","type":"quantitative","scale":{"domain":[0.0745,0.2555],"nice":false,"zero":false},"axis":{"orient":"left","values":[0.09,0.12,0.15,0.18,0.21,0.24],"labels":false,"domain":false,"tickSize":10,"tickWidth":2,"offset":-10,"title":null}}}},
{"data":{"name":"b"},"mark":{"type":"point","opacity":0},
"encoding":{
"x":{"field":"t","type":"quantitative","scale":{"domain":[8.3,300.6],"nice":false,"zero":false},"axis":{"orient":"bottom","values":[25,75,125,175,225,275],"labels":false,"domain":false,"tickSize":6,"tickWidth":2,"offset":-6,"title":null}},
"y":{"field":"v","type":"quantitative","scale":{"domain":[0.0745,0.2555],"nice":false,"zero":false},"axis":{"orient":"left","values":[0.105,0.135,0.165,0.195,0.225],"labels":false,"domain":false,"tickSize":6,"tickWidth":2,"offset":-6,"title":null}}}},
{"data":{"name":"b"},"mark":{"type":"point","opacity":0},
"encoding":{
"x":{"field":"t","type":"quantitative","scale":{"domain":[8.3,300.6],"nice":false,"zero":false},"axis":{"orient":"top","values":[25,75,125,175,225,275],"labels":false,"domain":false,"tickSize":6,"tickWidth":2,"offset":-6,"title":null}},
"y":{"field":"v","type":"quantitative","scale":{"domain":[0.0745,0.2555],"nice":false,"zero":false},"axis":{"orient":"right","values":[0.105,0.135,0.165,0.195,0.225],"labels":false,"domain":false,"tickSize":6,"tickWidth":2,"offset":-6,"title":null}}}},
{"data":{"values":[{"t":10.8,"v":0.2487,"txt":"(b)"}]},
"mark":{"type":"text","font":"Liberation Serif","fontSize":36,"color":"#0000FF","align":"left","baseline":"middle"},
"encoding":{"x":{"field":"t","type":"quantitative","scale":{"domain":[8.3,300.6],"nice":false,"zero":false},"axis":null},"y":{"field":"v","type":"quantitative","scale":{"domain":[0.0745,0.2555],"nice":false,"zero":false},"axis":null},"text":{"field":"txt"}}},
{"data":{"name":"ins"},
"mark":{"type":"point","shape":"M-1,0A1,1,0,1,1,1,0A1,1,0,1,1,-1,0Z","size":169,"filled":true,"fill":"white","stroke":"#808000","strokeWidth":1,"opacity":1},
"encoding":{
"x":{"field":"t","type":"quantitative","scale":{"domain":[108.3,203.5],"range":[106,329.3],"nice":false,"zero":false},"axis":{"orient":"bottom","offset":-326.3,"values":[120,140,160,180,200],"ticks":false,"domain":true,"domainWidth":1.2,"labelFont":"Liberation Serif","labelFontSize":14,"labelPadding":4,"title":"Temperature (K)","titleFont":"Liberation Serif","titleFontSize":15,"titlePadding":2}},
"y":{"field":"v","type":"quantitative","scale":{"domain":[0.0949,0.1331],"range":[180.7,26.7],"nice":false,"zero":false},"axis":{"orient":"left","offset":-106,"values":[0.10,0.11,0.12,0.13],"format":".2f","ticks":false,"domain":true,"domainWidth":1.2,"labelFont":"Liberation Serif","labelFontSize":14,"labelPadding":4,"title":"tan(δ)","titleFont":"Liberation Serif","titleFontSize":11,"titlePadding":4}}}},
{"data":{"name":"ins"},
"mark":{"type":"point","shape":"M-1,0A1,1,0,0,1,1,0Z","size":169,"filled":true,"fill":"#808000","strokeWidth":0,"opacity":1},
"encoding":{
"x":{"field":"t","type":"quantitative","scale":{"domain":[108.3,203.5],"range":[106,329.3],"nice":false,"zero":false},"axis":{"orient":"top","offset":-26.7,"ticks":false,"labels":false,"domain":true,"domainWidth":1.2,"title":null}},
"y":{"field":"v","type":"quantitative","scale":{"domain":[0.0949,0.1331],"range":[180.7,26.7],"nice":false,"zero":false},"axis":{"orient":"right","offset":-364.7,"ticks":false,"labels":false,"domain":true,"domainWidth":1.2,"title":null}}}},
{"data":{"name":"ins"},"mark":{"type":"point","opacity":0},
"encoding":{
"x":{"field":"t","type":"quantitative","scale":{"domain":[108.3,203.5],"range":[106,329.3],"nice":false,"zero":false},"axis":{"orient":"bottom","offset":-331.3,"values":[120,140,160,180,200],"labels":false,"domain":false,"tickSize":5,"tickWidth":1,"title":null}},
"y":{"field":"v","type":"quantitative","scale":{"domain":[0.0949,0.1331],"range":[180.7,26.7],"nice":false,"zero":false},"axis":{"orient":"left","offset":-111,"values":[0.10,0.11,0.12,0.13],"labels":false,"domain":false,"tickSize":5,"tickWidth":1,"title":null}}}},
{"data":{"name":"ins"},"mark":{"type":"point","opacity":0},
"encoding":{
"x":{"field":"t","type":"quantitative","scale":{"domain":[108.3,203.5],"range":[106,329.3],"nice":false,"zero":false},"axis":{"orient":"top","offset":-31.7,"values":[120,140,160,180,200],"labels":false,"domain":false,"tickSize":5,"tickWidth":1,"title":null}},
"y":{"field":"v","type":"quantitative","scale":{"domain":[0.0949,0.1331],"range":[180.7,26.7],"nice":false,"zero":false},"axis":{"orient":"right","offset":-369.7,"values":[0.10,0.11,0.12,0.13],"labels":false,"domain":false,"tickSize":5,"tickWidth":1,"title":null}}}},
{"data":{"name":"ins"},"mark":{"type":"point","opacity":0},
"encoding":{
"x":{"field":"t","type":"quantitative","scale":{"domain":[108.3,203.5],"range":[106,329.3],"nice":false,"zero":false},"axis":{"orient":"bottom","offset":-329.3,"values":[110,130,150,170,190],"labels":false,"domain":false,"tickSize":3,"tickWidth":1,"title":null}},
"y":{"field":"v","type":"quantitative","scale":{"domain":[0.0949,0.1331],"range":[180.7,26.7],"nice":false,"zero":false},"axis":{"orient":"left","offset":-109,"values":[0.105,0.115,0.125],"labels":false,"domain":false,"tickSize":3,"tickWidth":1,"title":null}}}},
{"data":{"name":"ins"},"mark":{"type":"point","opacity":0},
"encoding":{
"x":{"field":"t","type":"quantitative","scale":{"domain":[108.3,203.5],"range":[106,329.3],"nice":false,"zero":false},"axis":{"orient":"top","offset":-29.7,"values":[110,130,150,170,190],"labels":false,"domain":false,"tickSize":3,"tickWidth":1,"title":null}},
"y":{"field":"v","type":"quantitative","scale":{"domain":[0.0949,0.1331],"range":[180.7,26.7],"nice":false,"zero":false},"axis":{"orient":"right","offset":-367.7,"values":[0.105,0.115,0.125],"labels":false,"domain":false,"tickSize":3,"tickWidth":1,"title":null}}}},
{"data":{"values":[{"t":142.1,"v":0.1232,"txt":"~T"}]},
"mark":{"type":"text","font":"Liberation Serif","fontSize":16,"color":"black","align":"right","baseline":"alphabetic"},
"encoding":{"x":{"field":"t","type":"quantitative","scale":{"domain":[108.3,203.5],"range":[106,329.3],"nice":false,"zero":false},"axis":null},"y":{"field":"v","type":"quantitative","scale":{"domain":[0.0949,0.1331],"range":[180.7,26.7],"nice":false,"zero":false},"axis":null},"text":{"field":"txt"}}},
{"data":{"values":[{"t":142.2,"v":0.1214,"txt":"N"}]},
"mark":{"type":"text","font":"Liberation Serif","fontSize":11,"color":"black","align":"left","baseline":"alphabetic"},
"encoding":{"x":{"field":"t","type":"quantitative","scale":{"domain":[108.3,203.5],"range":[106,329.3],"nice":false,"zero":false},"axis":null},"y":{"field":"v","type":"quantitative","scale":{"domain":[0.0949,0.1331],"range":[180.7,26.7],"nice":false,"zero":false},"axis":null},"text":{"field":"txt"}}},
{"data":{"values":[{"t":146.7,"v":0.1263,"v2":0.1196}]},
"mark":{"type":"rule","color":"black","strokeWidth":2.5},
"encoding":{"x":{"field":"t","type":"quantitative","scale":{"domain":[108.3,203.5],"range":[106,329.3],"nice":false,"zero":false},"axis":null},"y":{"field":"v","type":"quantitative","scale":{"domain":[0.0949,0.1331],"range":[180.7,26.7],"nice":false,"zero":false},"axis":null},"y2":{"field":"v2"}}},
{"data":{"values":[{"t":146.7,"v":0.1192}]},
"mark":{"type":"point","shape":"triangle-down","size":90,"filled":true,"color":"black","opacity":1},
"encoding":{"x":{"field":"t","type":"quantitative","scale":{"domain":[108.3,203.5],"range":[106,329.3],"nice":false,"zero":false},"axis":null},"y":{"field":"v","type":"quantitative","scale":{"domain":[0.0949,0.1331],"range":[180.7,26.7],"nice":false,"zero":false},"axis":null}}}
]}
]
}
